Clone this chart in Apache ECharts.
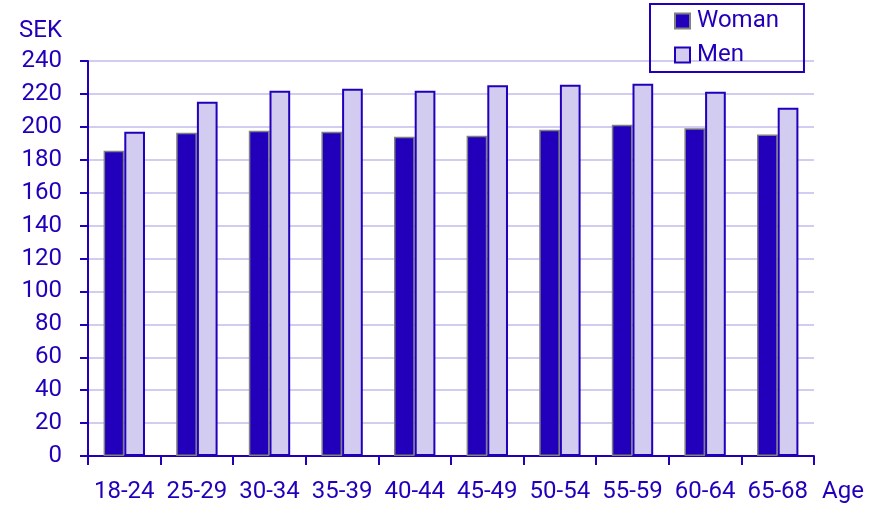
<!DOCTYPE html>
<html>
<head>
<meta charset="utf-8">
<script src="https://cdn.jsdelivr.net/npm/echarts@6/dist/echarts.min.js"></script>
<style>
  html, body { margin: 0; padding: 0; background: #fff; }
  #main { width: 887px; height: 515px; }
</style>
</head>
<body>
<div id="main"></div>
<script>
var ageGroups = ['18-24', '25-29', '30-34', '35-39', '40-44', '45-49', '50-54', '55-59', '60-64', '65-68'];
var woman = [185.5, 196.4, 197.6, 197.0, 194.0, 194.6, 198.3, 201.3, 199.1, 195.3];
var men = [197.0, 215.3, 221.9, 223.2, 221.9, 225.2, 225.6, 226.2, 221.3, 211.6];
var yTicks = [0, 240, 20]; // min, max, step

var blue = '#2200bb';
var lightBlue = '#d2ccf0';
var font = 'Roboto';
var fs = 24;

var chart = echarts.init(document.getElementById('main'));

var option = {
    animation: false,
    textStyle: { fontFamily: font, color: blue },
    legend: {
        orient: 'vertical',
        left: 650,
        top: 4,
        padding: [5, 25, 5, 24],
        itemGap: 10,
        itemWidth: 15,
        itemHeight: 15,
        icon: 'rect',
        borderColor: blue,
        borderWidth: 2,
        textStyle: { fontSize: fs, color: blue, fontFamily: font, padding: [0, 0, 0, 2] },
        data: ['Woman', 'Men']
    },
    grid: { left: 88, right: 73, top: 61, bottom: 59, containLabel: false },
    xAxis: {
        type: 'category',
        data: ageGroups,
        name: 'Age',
        nameLocation: 'end',
        nameGap: 8,
        nameTextStyle: { fontSize: fs, color: blue, verticalAlign: 'top', padding: [24, 0, 0, 0] },
        axisLine: { lineStyle: { color: blue, width: 2 } },
        axisTick: { show: true, length: 9, interval: 0, lineStyle: { color: blue, width: 2 } },
        axisLabel: { fontSize: fs, color: blue, margin: 24, interval: 0 },
        splitLine: { show: false }
    },
    yAxis: {
        type: 'value',
        min: yTicks[0],
        max: yTicks[1],
        interval: yTicks[2],
        name: 'SEK',
        nameLocation: 'end',
        nameGap: 18,
        nameTextStyle: { fontSize: fs, color: blue, align: 'right', verticalAlign: 'bottom', padding: [0, 26, 0, 0] },
        axisLine: { show: true, lineStyle: { color: blue, width: 2 } },
        axisTick: { show: true, length: 8, lineStyle: { color: blue, width: 2 } },
        axisLabel: { fontSize: fs, color: blue, margin: 26 },
        splitLine: { show: true, lineStyle: { color: lightBlue, width: 2 } }
    },
    series: [
        {
            name: 'Woman',
            type: 'bar',
            data: woman,
            barGap: 0,
            barCategoryGap: '43%',
            itemStyle: { color: blue, borderColor: '#808080', borderWidth: 1.5 }
        },
        {
            name: 'Men',
            type: 'bar',
            data: men,
            itemStyle: { color: lightBlue, borderColor: blue, borderWidth: 2 }
        }
    ]
};

chart.setOption(option);
</script>
</body>
</html>
